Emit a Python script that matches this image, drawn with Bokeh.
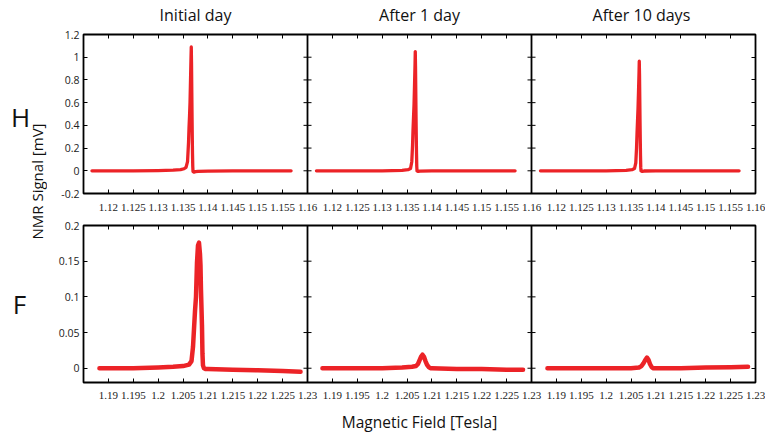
from bokeh.plotting import figure
from bokeh.models import (Range1d, LinearAxis, FixedTicker, CustomJSTickFormatter, Span)
from bokeh.layouts import row, column
from bokeh.embed import file_html
from bokeh.resources import INLINE
from bokeh.core.properties import value
import math

# ---------------- data ----------------
panel_titles = ["Initial day", "After 1 day", "After  10 days"]
row_names = ["H", "F"]
y_title = "NMR Signal [mV]"
x_title = "Magnetic Field [Tesla]"

h_x_limits = [1.115, 1.16]
h_xtick_labels = [1.12, 1.125, 1.13, 1.135, 1.14, 1.145, 1.15, 1.155, 1.16]
h_y_limits = [-0.2, 1.2]
h_ytick_labels = [-0.2, 0, 0.2, 0.4, 0.6, 0.8, 1, 1.2]

f_x_limits = [1.185, 1.23]
f_xtick_labels = [1.19, 1.195, 1.2, 1.205, 1.21, 1.215, 1.22, 1.225, 1.23]
f_y_limits = [-0.02, 0.2]
f_ytick_labels = [0, 0.05, 0.1, 0.15, 0.2]

# H signal, initial day
h_init_x = [1.1167, 1.1200, 1.1250, 1.1300, 1.1330, 1.1345, 1.1352, 1.1356, 1.1359, 1.1361,
            1.1362, 1.1363, 1.1364, 1.1365, 1.1366, 1.13665, 1.1367, 1.13675, 1.1368, 1.13685,
            1.1369, 1.13695, 1.1370, 1.1372, 1.1375, 1.1380, 1.1400, 1.1450, 1.1500, 1.1567]
h_init_y = [0.0, 0.0, 0.0, 0.002, 0.005, 0.01, 0.018, 0.03, 0.08, 0.25,
            0.38, 0.48, 0.6, 0.8, 1.0, 1.09, 0.95, 0.72, 0.5, 0.3,
            0.15, 0.04, -0.005, -0.012, -0.008, -0.005, -0.003, 0.0, 0.0, 0.0]

# H signal, after 1 day
h_1d_x = [1.1168, 1.1200, 1.1250, 1.1300, 1.1340, 1.1352, 1.1357, 1.13595, 1.1361, 1.1362,
          1.1363, 1.1364, 1.1365, 1.1366, 1.13665, 1.1367, 1.13675, 1.1368, 1.13685, 1.1369,
          1.13695, 1.1370, 1.1372, 1.1376, 1.1400, 1.1450, 1.1500, 1.1567]
h_1d_y = [0.0, 0.0, 0.0, 0.0, 0.004, 0.01, 0.02, 0.08, 0.22, 0.36,
          0.47, 0.58, 0.75, 0.93, 1.05, 0.92, 0.7, 0.48, 0.3, 0.15,
          0.04, 0.0, -0.006, -0.003, 0.0, 0.0, 0.0, 0.0]

# H signal, after 10 days
h_10d_x = [1.1168, 1.1200, 1.1250, 1.1300, 1.1340, 1.1352, 1.1357, 1.13595, 1.1361, 1.1362,
           1.1363, 1.1364, 1.1365, 1.1366, 1.13665, 1.1367, 1.13675, 1.1368, 1.13685, 1.1369,
           1.13695, 1.1370, 1.1372, 1.1376, 1.1400, 1.1450, 1.1500, 1.1567]
h_10d_y = [0.0, 0.0, 0.0, 0.0, 0.004, 0.01, 0.02, 0.07, 0.2, 0.33,
           0.44, 0.55, 0.7, 0.86, 0.965, 0.85, 0.64, 0.44, 0.27, 0.13,
           0.03, 0.0, -0.005, -0.002, 0.0, 0.0, 0.0, 0.0]

# F signal, initial day
f_init_x = [1.1882, 1.1900, 1.1950, 1.2000, 1.2030, 1.2050, 1.2062, 1.2067, 1.2070, 1.2072,
            1.2074, 1.2076, 1.2078, 1.2080, 1.2082, 1.2084, 1.2085, 1.2086, 1.2088, 1.2089,
            1.2090, 1.2092, 1.2095, 1.2100, 1.2150, 1.2200, 1.2250, 1.2286]
f_init_y = [0.0, 0.0, 0.0, 0.001, 0.002, 0.003, 0.005, 0.01, 0.03, 0.055,
            0.08, 0.1, 0.148, 0.172, 0.176, 0.16, 0.145, 0.11, 0.06, 0.02,
            0.004, 0.0, -0.001, -0.001, -0.002, -0.003, -0.004, -0.005]

# F signal, after 1 day
f_1d_x = [1.1880, 1.1900, 1.1950, 1.2000, 1.2040, 1.2060, 1.2068, 1.2072, 1.2075, 1.2078,
          1.2081, 1.2084, 1.2087, 1.2090, 1.2093, 1.2097, 1.2100, 1.2150, 1.2200, 1.2250, 1.2283]
f_1d_y = [0.0, 0.0, 0.0, 0.0, 0.001, 0.002, 0.003, 0.006, 0.011, 0.016,
          0.019, 0.016, 0.01, 0.005, 0.002, 0.0, 0.0, -0.001, -0.001, -0.002, -0.002]

# F signal, after 10 days
f_10d_x = [1.1882, 1.1900, 1.1950, 1.2000, 1.2050, 1.2066, 1.2071, 1.2075, 1.2079, 1.2082,
           1.2085, 1.2088, 1.2091, 1.2094, 1.2100, 1.2150, 1.2200, 1.2250, 1.2285]
f_10d_y = [0.0, 0.0, 0.0, 0.0, 0.0, 0.001, 0.003, 0.007, 0.012, 0.015,
           0.012, 0.006, 0.002, 0.0, 0.0, 0.0, 0.001, 0.0015, 0.002]

# ---------------- styling ----------------
RED = "#ec2327"
FRAME_W = 672
SIDE_W = 47

local_fmt = """
const k = Math.ceil((tick - x0) / w - 1e-6) - 1;
return String(Number((tick - k * w).toFixed(4)));
"""
plain_fmt = "return String(Number(tick.toFixed(4)));"
title_fmt = "return titles[Math.floor((tick - x0) / w)];"


def style(ax):
    ax.axis_line_color = None
    ax.major_tick_in = 4
    ax.major_tick_out = 0
    ax.minor_tick_in = 4
    ax.minor_tick_out = 0
    ax.major_tick_line_color = "black"
    ax.minor_tick_line_color = "black"
    ax.major_tick_line_width = 1
    ax.minor_tick_line_width = 1


def make_row(xlim, xticks, ylim, yticks, series, frame_h, b_top, b_bottom,
             label_standoff, titles=None, xlabel=None, lw=4):
    x0, x1 = xlim
    w = x1 - x0
    p = figure(frame_width=FRAME_W, frame_height=frame_h,
               x_range=Range1d(x0, x0 + 3 * w), y_range=Range1d(*ylim),
               x_axis_type=None, y_axis_type=None,
               min_border_left=36, min_border_right=10,
               min_border_top=b_top, min_border_bottom=b_bottom,
               toolbar_location=None, output_backend="svg")
    p.extra_x_ranges = {f"p{k}": Range1d(x0 - k * w, x0 + (3 - k) * w) for k in range(3)}
    p.outline_line_color = "black"
    p.outline_line_width = 1.8

    main_ticks = [t + k * w for k in range(3) for t in xticks]

    xb = LinearAxis(ticker=FixedTicker(ticks=main_ticks),
                    formatter=CustomJSTickFormatter(args=dict(x0=x0, w=w), code=local_fmt))
    style(xb)
    xb.major_label_text_font = "Liberation Sans Narrow"
    xb.major_label_text_font_size = "11px"
    xb.major_label_text_color = "#222222"
    xb.major_label_standoff = label_standoff
    if xlabel:
        xb.axis_label = xlabel
        xb.axis_label_text_font = "Open Sans"
        xb.axis_label_text_font_size = "15.5px"
        xb.axis_label_text_font_style = "normal"
        xb.axis_label_text_color = "#111111"
        xb.axis_label_standoff = 9
    p.add_layout(xb, "below")

    # top edge: inward tick marks (as minor ticks, no labels); titles at panel centres
    centres = [x0 + w / 2 + k * w for k in range(3)] if titles else []
    xa = LinearAxis(ticker=FixedTicker(ticks=centres, minor_ticks=main_ticks),
                    formatter=CustomJSTickFormatter(args=dict(x0=x0, w=w, titles=titles or []),
                                                    code=title_fmt))
    style(xa)
    xa.major_tick_in = 0
    xa.major_label_text_font = "Open Sans"
    xa.major_label_text_font_size = "16px"
    xa.major_label_text_color = "#111111"
    xa.major_label_standoff = 9
    p.add_layout(xa, "above")

    yl = LinearAxis(ticker=FixedTicker(ticks=yticks),
                    formatter=CustomJSTickFormatter(code=plain_fmt))
    style(yl)
    yl.major_label_text_font = "Open Sans"
    yl.major_label_text_font_size = "10.5px"
    yl.major_label_text_color = "#222222"
    yl.major_label_standoff = 4
    p.add_layout(yl, "left")

    yr = LinearAxis(ticker=FixedTicker(ticks=[], minor_ticks=yticks))
    style(yr)
    p.add_layout(yr, "right")

    boundaries = [x0 + k * w for k in (1, 2)]
    for b in boundaries:
        p.add_layout(Span(location=b, dimension="height",
                          line_color="black", line_width=1.8))
        # inward tick marks on both sides of the shared panel edge
        p.scatter([b] * len(yticks), yticks, marker="dash", size=8,
                  line_color="black", line_width=1)

    for k, (sx, sy) in enumerate(series):
        p.line(sx, sy, x_range_name=f"p{k}", line_color=RED, line_width=lw,
               line_join="round", line_cap="round")
    return p


top = make_row(h_x_limits, h_xtick_labels, h_y_limits, h_ytick_labels,
               [(h_init_x, h_init_y), (h_1d_x, h_1d_y), (h_10d_x, h_10d_y)],
               frame_h=159, b_top=34, b_bottom=24, label_standoff=10,
               titles=panel_titles, lw=3.3)
bottom = make_row(f_x_limits, f_xtick_labels, f_y_limits, f_ytick_labels,
                  [(f_init_x, f_init_y), (f_1d_x, f_1d_y), (f_10d_x, f_10d_y)],
                  frame_h=157, b_top=8, b_bottom=46, label_standoff=9,
                  xlabel=x_title, lw=4.5)

TOTAL_H = 34 + 159 + 24 + 8 + 157 + 46

side = figure(width=SIDE_W, height=TOTAL_H, x_range=Range1d(0, SIDE_W),
              y_range=Range1d(0, TOTAL_H), x_axis_type=None, y_axis_type=None,
              min_border=0, toolbar_location=None, output_backend="svg")
side.outline_line_color = None
side.text(x=[20, 19], y=[TOTAL_H - 116, TOTAL_H - 303], text=row_names, text_align="center",
          text_baseline="middle", text_font=value("Open Sans"),
          text_font_size=value("26px"), text_color="#111111")
side.text(x=[36], y=[TOTAL_H - 181], text=[y_title], angle=math.pi / 2, text_align="center",
          text_baseline="middle", text_font=value("Open Sans"),
          text_font_size=value("15px"), text_color="#111111")

layout = row(side, column(top, bottom))
open("out.html", "w").write(file_html(layout, INLINE))
